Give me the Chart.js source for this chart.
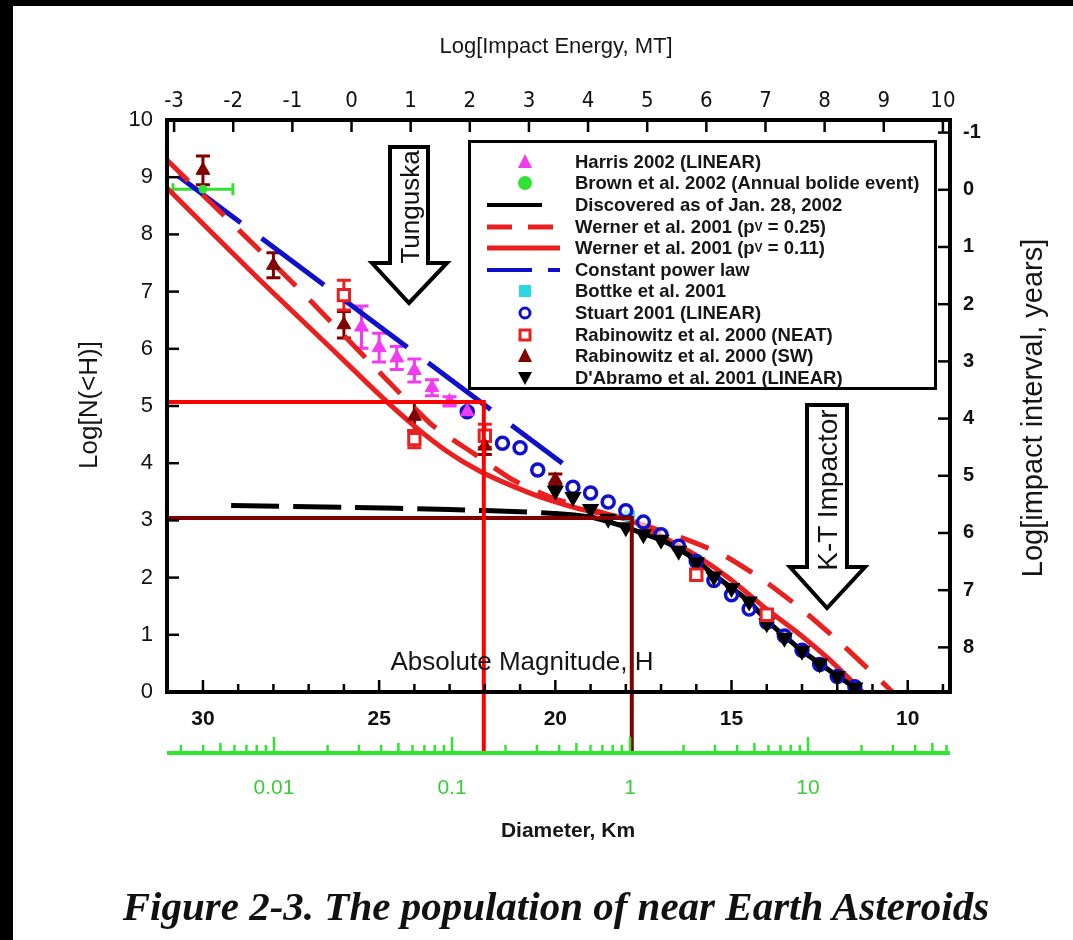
<!DOCTYPE html>
<html>
<head>
<meta charset="utf-8">
<script src="https://cdn.jsdelivr.net/npm/chart.js@4.4.1/dist/chart.umd.min.js"></script>
<style>
  html, body { margin: 0; padding: 0; background: #fff; }
  body { width: 1073px; height: 940px; position: relative; overflow: hidden;
         font-family: "Liberation Sans", Arial, Helvetica, sans-serif; color: #161616; }
  .edge { position: absolute; background: #000; }
  #chart { position: absolute; left: 0; top: 0; }
  .lbl { position: absolute; white-space: nowrap; transform: translate(-50%, -50%); }
  .rot { transform: translate(-50%, -50%) rotate(-90deg); }
  #legend { position: absolute; left: 468px; top: 140px; width: 469px; height: 250px;
            box-sizing: border-box; border: 3px solid #000; background: #fff; padding-top: 8px; }
  .row { height: 21.6px; display: flex; align-items: center; font-weight: bold; font-size: 18.5px; }
  .row svg { width: 104px; height: 22px; flex: none; }
  .row sub { font-size: 12px; vertical-align: -5px; line-height: 0; }
  #caption { position: absolute; left: 556px; top: 906px; transform: translate(-50%, -50%);
             font-family: "Liberation Serif", "Times New Roman", serif; font-style: italic;
             font-weight: bold; font-size: 41px; white-space: nowrap; color: #111; }
  #marks { position: absolute; left: 0; top: 0; }
</style>
</head>
<body>
<div class="edge" style="left:0;top:0;width:13px;height:940px"></div>
<div class="edge" style="left:0;top:0;width:1073px;height:6px"></div>

<canvas id="chart" width="1073" height="940"></canvas>

<svg id="marks" width="1073" height="940">
  <polygon points="390,147 428,147 428,263 447,263 409,303 372,263 390,263"
           fill="#fff" stroke="#000" stroke-width="4" stroke-linejoin="miter"/>
  <text transform="translate(419,207) rotate(-90)" text-anchor="middle"
        font-family="Liberation Sans, Arial, sans-serif" font-size="26" fill="#111">Tunguska</text>
  <polygon points="807,405 847,405 847,567 865,567 827,608 790,567 807,567"
           fill="#fff" stroke="#000" stroke-width="4" stroke-linejoin="miter"/>
  <text transform="translate(837,490) rotate(-90)" text-anchor="middle"
        font-family="Liberation Sans, Arial, sans-serif" font-size="28" fill="#111">K-T Impactor</text>
</svg>

<div id="legend">
  <div class="row"><svg><polygon points="54,3 61,17 47,17" fill="#f03cf0"/></svg>Harris 2002 (LINEAR)</div>
  <div class="row"><svg><circle cx="54" cy="11" r="7" fill="#33e033"/></svg>Brown et al. 2002 (Annual bolide event)</div>
  <div class="row"><svg><line x1="16" y1="11" x2="71" y2="11" stroke="#000" stroke-width="4"/></svg>Discovered as of Jan. 28, 2002</div>
  <div class="row"><svg><line x1="16" y1="11" x2="41" y2="11" stroke="#e82020" stroke-width="5"/><line x1="57" y1="11" x2="82" y2="11" stroke="#e82020" stroke-width="5"/></svg>Werner et al. 2001 (p<sub>V</sub>&nbsp;= 0.25)</div>
  <div class="row"><svg><line x1="16" y1="11" x2="89" y2="11" stroke="#e82020" stroke-width="5"/></svg>Werner et al. 2001 (p<sub>V</sub>&nbsp;= 0.11)</div>
  <div class="row"><svg><line x1="16" y1="11" x2="61" y2="11" stroke="#1010cc" stroke-width="4"/><line x1="77" y1="11" x2="89" y2="11" stroke="#1010cc" stroke-width="4"/></svg>Constant power law</div>
  <div class="row"><svg><rect x="48" y="5" width="12" height="12" fill="#2ad8e0"/></svg>Bottke et al. 2001</div>
  <div class="row"><svg><circle cx="54" cy="11" r="5" fill="#fff" stroke="#1010cc" stroke-width="3"/></svg>Stuart 2001 (LINEAR)</div>
  <div class="row"><svg><rect x="49" y="6" width="10" height="10" fill="#fff" stroke="#e82020" stroke-width="3"/></svg>Rabinowitz et al. 2000 (NEAT)</div>
  <div class="row"><svg><polygon points="54,3 61,17 47,17" fill="#800000"/></svg>Rabinowitz et al. 2000 (SW)</div>
  <div class="row"><svg><polygon points="47,5 61,5 54,18" fill="#000"/></svg>D'Abramo et al. 2001 (LINEAR)</div>
</div>

<div class="lbl" style="left:556px;top:46px;font-size:22px">Log[Impact Energy, MT]</div>
<div class="lbl rot" style="left:88px;top:405px;font-size:26px">Log[N(&lt;H)]</div>
<div class="lbl rot" style="left:1032px;top:408px;font-size:29px">Log[impact interval, years]</div>
<div class="lbl" style="left:522px;top:661px;font-size:26px">Absolute Magnitude, H</div>
<div class="lbl" style="left:568px;top:830px;font-size:21px;font-weight:bold">Diameter, Km</div>
<div id="caption">Figure 2-3. The population of near Earth Asteroids</div>

<script>
// ---- data (x = absolute magnitude H, y = log N(<H)) ----
const harrisH = [25.5, 25, 24.5, 24, 23.5, 23, 22.5];
const harrisN = [6.38, 6.02, 5.84, 5.62, 5.32, 5.08, 4.90];
const harrisErr = [0.37, 0.25, 0.2, 0.2, 0.14, 0.08, 0.05];

const brownH = [30];
const brownN = [8.79];
const brownErrH = [0.85];

const swH = [30, 28, 26, 24, 22, 20];
const swN = [9.12, 7.46, 6.42, 4.82, 4.30, 3.71];
const swErr = [0.25, 0.22, 0.23, 0.25, 0.15, 0.1];

const neatH = [26, 24, 22, 16, 14];
const neatN = [6.94, 4.42, 4.48, 2.05, 1.35];
const neatErr = [0.26, 0.15, 0.2, 0.08, 0.08];

const stuartH = [22.5, 21.5, 21, 20.5, 19.5, 19, 18.5, 18, 17.5, 17, 16.5, 16,
                 15.5, 15, 14.5, 14, 13.5, 13, 12.5, 12, 11.5];
const stuartN = [4.90, 4.35, 4.27, 3.88, 3.58, 3.48, 3.32, 3.17, 2.97, 2.75, 2.55, 2.28,
                 1.95, 1.70, 1.45, 1.22, 0.98, 0.73, 0.48, 0.27, 0.09];

const dabramoH = [20, 19.5, 19, 18.5, 18, 17.5, 17, 16.5, 16, 15.5, 15, 14.5, 14,
                  13.5, 13, 12.5, 12, 11.5];
const dabramoN = [3.52, 3.41, 3.20, 3.03, 2.88, 2.76, 2.66, 2.47, 2.27, 2.02, 1.82, 1.58, 1.20,
                  0.95, 0.72, 0.50, 0.28, 0.08];

const bottkeH = [17.9];
const bottkeN = [3.08];

const discoveredH = [29.2, 26, 23, 21, 20, 19, 18.5, 18, 17.5, 17, 16.5, 16, 15.5, 15,
                     14.5, 14, 13.5, 13, 12.5, 12, 11.5];
const discoveredN = [3.26, 3.23, 3.19, 3.15, 3.12, 3.06, 2.98, 2.88, 2.77, 2.66, 2.50, 2.30, 2.05, 1.82,
                     1.58, 1.25, 0.98, 0.72, 0.50, 0.28, 0.08];

const werner25H = [31.02, 27.25, 23.56, 22.34, 21.21, 20.07, 18.74, 17.6, 16.38, 15.25, 14.11, 12.98, 11.84, 10.43];
const werner25N = [9.30, 7.03, 4.70, 4.18, 3.71, 3.39, 3.15, 2.94, 2.69, 2.40, 1.96, 1.43, 0.82, 0.0];

const werner11H = [31.02, 28.38, 26.48, 24.98, 24.04, 23.08, 22.14, 21.21, 20.24, 19.3, 18.37, 17.8,
                   16.95, 15.99, 15.05, 14.11, 13.15, 12.21, 11.28];
const werner11N = [8.81, 7.20, 6.08, 5.19, 4.67, 4.21, 3.86, 3.60, 3.37, 3.20, 3.08, 2.99,
                   2.71, 2.38, 1.98, 1.50, 1.05, 0.56, 0.0];

const powerH = [30.7, 19.8];
const powerN = [9.02, 4.0];

// the two read-off guide lines (down to the diameter scale)
const guideRedH = [31.02, 22.03, 22.03];
const guideRedN = [5.07, 5.07, -1.1];
const guideDarkH = [31.02, 17.83, 17.83];
const guideDarkN = [3.04, 3.04, -1.1];

// ---- axes ----
const hTicks = [9, 10, 11, 12, 13, 14, 15, 16, 17, 18, 19, 20, 21, 22, 23, 24, 25, 26, 27, 28, 29, 30];
const hLabels = [30, 25, 20, 15, 10];
const nTicks = [0, 1, 2, 3, 4, 5, 6, 7, 8, 9, 10];
const energyTicks = [-3, -2, -1, 0, 1, 2, 3, 4, 5, 6, 7, 8, 9, 10];
const intervalTicks = [-1, 0, 1, 2, 3, 4, 5, 6, 7, 8];
const diamTicks = [0.01, 0.1, 1, 10];

const xy = (hs, ns) => hs.map((h, i) => ({ x: h, y: ns[i] }));
const setTicks = list => s => { s.ticks = list.map(v => ({ value: v })); };
const sans = "'Liberation Sans', Arial, sans-serif";

// error bars + inward tick marks + frame + green diameter scale
const extras = {
  id: 'extras',
  beforeDatasetsDraw(chart) {
    const { ctx, scales: { x, y } } = chart;
    chart.data.datasets.forEach(ds => {
      if (!ds.errY && !ds.errX) return;
      ctx.save();
      ctx.strokeStyle = ds.borderColor;
      ctx.lineWidth = 3;
      ds.data.forEach((p, j) => {
        const px = x.getPixelForValue(p.x), py = y.getPixelForValue(p.y);
        ctx.beginPath();
        if (ds.errY) {
          const y1 = y.getPixelForValue(p.y + ds.errY[j]), y2 = y.getPixelForValue(p.y - ds.errY[j]);
          ctx.moveTo(px, y1); ctx.lineTo(px, y2);
          ctx.moveTo(px - 7, y1); ctx.lineTo(px + 7, y1);
          ctx.moveTo(px - 7, y2); ctx.lineTo(px + 7, y2);
        }
        if (ds.errX) {
          const x1 = x.getPixelForValue(p.x + ds.errX[j]), x2 = x.getPixelForValue(p.x - ds.errX[j]);
          ctx.moveTo(x1, py); ctx.lineTo(x2, py);
          ctx.moveTo(x1, py - 6); ctx.lineTo(x1, py + 6);
          ctx.moveTo(x2, py - 6); ctx.lineTo(x2, py + 6);
        }
        ctx.stroke();
      });
      ctx.restore();
    });
  },
  afterDraw(chart) {
    const { ctx, chartArea: a, scales: s } = chart;
    const seg = (x1, y1, x2, y2) => { ctx.beginPath(); ctx.moveTo(x1, y1); ctx.lineTo(x2, y2); ctx.stroke(); };
    ctx.save();
    ctx.strokeStyle = '#000';
    ctx.lineWidth = 2.5;
    s.x.ticks.forEach(t => {
      const px = s.x.getPixelForValue(t.value);
      seg(px, a.bottom, px, a.bottom - (t.value % 5 === 0 ? 12 : 8));
    });
    s.xE.ticks.forEach(t => { const px = s.xE.getPixelForValue(t.value); seg(px, a.top, px, a.top + 12); });
    s.y.ticks.forEach(t => { const py = s.y.getPixelForValue(t.value); seg(a.left, py, a.left + 12, py); });
    s.yR.ticks.forEach(t => { const py = s.yR.getPixelForValue(t.value); seg(a.right, py, a.right - 12, py); });
    ctx.lineWidth = 4;
    ctx.strokeRect(a.left, a.top, a.right - a.left, a.bottom - a.top);

    const d = s.xD, gy = d.top + 21;
    ctx.strokeStyle = '#2ee62e';
    ctx.lineWidth = 4;
    seg(a.left, gy, a.right, gy);
    ctx.lineWidth = 2.5;
    for (let k = -3; k <= 1; k++) {
      for (let m = 1; m <= 9; m++) {
        const v = m * Math.pow(10, k);
        if (v < d.min || v > d.max) continue;
        const px = d.getPixelForValue(v);
        seg(px, gy, px, gy - (m === 1 ? 16 : (m === 5 ? 10 : 8)));
      }
    }
    ctx.restore();
  }
};

new Chart(document.getElementById('chart'), {
  type: 'scatter',
  data: {
    datasets: [
      { label: 'guide red', data: xy(guideRedH, guideRedN), showLine: true, pointRadius: 0,
        borderColor: '#ff0000', borderWidth: 4, clip: false, order: 1 },
      { label: 'guide dark', data: xy(guideDarkH, guideDarkN), showLine: true, pointRadius: 0,
        borderColor: '#820000', borderWidth: 4, clip: false, order: 1 },

      { label: 'Harris 2002 (LINEAR)', data: xy(harrisH, harrisN), pointStyle: 'triangle', pointRadius: 8,
        backgroundColor: '#f03cf0', borderColor: '#f03cf0', borderWidth: 1, errY: harrisErr, order: 3 },
      { label: 'Brown et al. 2002', data: xy(brownH, brownN), pointStyle: 'circle', pointRadius: 4,
        backgroundColor: '#33e033', borderColor: '#33e033', errX: brownErrH, order: 4 },
      { label: 'Rabinowitz et al. 2000 (SW)', data: xy(swH, swN), pointStyle: 'triangle', pointRadius: 8,
        backgroundColor: '#800000', borderColor: '#800000', borderWidth: 1, errY: swErr, order: 2 },
      { label: 'Rabinowitz et al. 2000 (NEAT)', data: xy(neatH, neatN), pointStyle: 'rect', pointRadius: 8,
        backgroundColor: '#fff', borderColor: '#e82020', borderWidth: 3, errY: neatErr, order: 4 },
      { label: 'Bottke et al. 2001', data: xy(bottkeH, bottkeN), pointStyle: 'rect', pointRadius: 7,
        backgroundColor: '#2ad8e0', borderColor: '#2ad8e0', order: 6 },
      { label: 'Stuart 2001 (LINEAR)', data: xy(stuartH, stuartN), pointStyle: 'circle', pointRadius: 6,
        backgroundColor: 'rgba(255,255,255,0.6)', borderColor: '#1010cc', borderWidth: 3.5, order: 5 },
      { label: "D'Abramo et al. 2001 (LINEAR)", data: xy(dabramoH, dabramoN), pointStyle: 'triangle',
        rotation: 180, pointRadius: 8, backgroundColor: '#000', borderColor: '#000', borderWidth: 2, order: 4 },

      { label: 'Discovered as of Jan. 28, 2002', data: xy(discoveredH, discoveredN), showLine: true,
        pointRadius: 0, borderColor: '#000', borderWidth: 5, tension: 0.2, order: 8,
        segment: { borderDash: c => (c.p0.parsed.x > 19.2 ? [48, 14] : []) } },
      { label: 'Werner et al. 2001 (pV = 0.25)', data: xy(werner25H, werner25N), showLine: true,
        pointRadius: 0, borderColor: '#e82020', borderWidth: 5, borderDash: [30, 20], tension: 0.2, order: 9 },
      { label: 'Werner et al. 2001 (pV = 0.11)', data: xy(werner11H, werner11N), showLine: true,
        pointRadius: 0, borderColor: '#e82020', borderWidth: 5, tension: 0.2, order: 9 },
      { label: 'Constant power law', data: xy(powerH, powerN), showLine: true, pointRadius: 0,
        borderColor: '#1010cc', borderWidth: 5, borderDash: [78, 26], order: 9 }
    ]
  },
  options: {
    responsive: false,
    animation: false,
    events: [],
    layout: { padding: { left: 107, right: 63, top: 70, bottom: 128 } },
    plugins: { legend: { display: false }, tooltip: { enabled: false } },
    scales: {
      x: {
        type: 'linear', position: 'bottom', reverse: true, min: 8.8, max: 31.02, weight: 0,
        afterBuildTicks: setTicks(hTicks),
        afterFit: s => { s.height = 40; },
        grid: { display: false }, border: { display: false },
        ticks: { autoSkip: false, maxRotation: 0, padding: 7, color: '#111',
                 font: { family: sans, size: 21, weight: 'bold' },
                 callback: v => (hLabels.includes(v) ? String(v) : '') }
      },
      xD: {
        type: 'logarithmic', position: 'bottom', min: 0.002506, max: 62.8, weight: 1,
        afterBuildTicks: setTicks(diamTicks),
        afterFit: s => { s.height = 80; },
        grid: { display: false }, border: { display: false },
        ticks: { autoSkip: false, maxRotation: 0, padding: 36, color: '#3bcc3b',
                 font: { family: sans, size: 21 }, callback: v => String(v) }
      },
      xE: {
        type: 'linear', position: 'top', min: -3.12, max: 10.12,
        afterBuildTicks: setTicks(energyTicks),
        afterFit: s => { s.height = 50; },
        grid: { display: false }, border: { display: false },
        ticks: { autoSkip: false, maxRotation: 0, padding: -2, color: '#111',
                 font: { family: "'Liberation Sans Narrow', 'Arial Narrow', 'DejaVu Sans Condensed', sans-serif", size: 22 },
                 callback: v => String(v) }
      },
      y: {
        type: 'linear', position: 'left', min: 0, max: 10,
        afterBuildTicks: setTicks(nTicks),
        afterFit: s => { s.width = 60; },
        grid: { display: false }, border: { display: false },
        ticks: { padding: 6, color: '#111', font: { family: sans, size: 22 }, callback: v => String(v) }
      },
      yR: {
        type: 'linear', position: 'right', reverse: true, min: -1.22, max: 8.78,
        afterBuildTicks: setTicks(intervalTicks),
        afterFit: s => { s.width = 60; },
        grid: { display: false }, border: { display: false },
        ticks: { padding: 5, color: '#111', font: { family: sans, size: 20, weight: 'bold' },
                 callback: v => String(v) }
      }
    }
  },
  plugins: [extras]
});
</script>
</body>
</html>
